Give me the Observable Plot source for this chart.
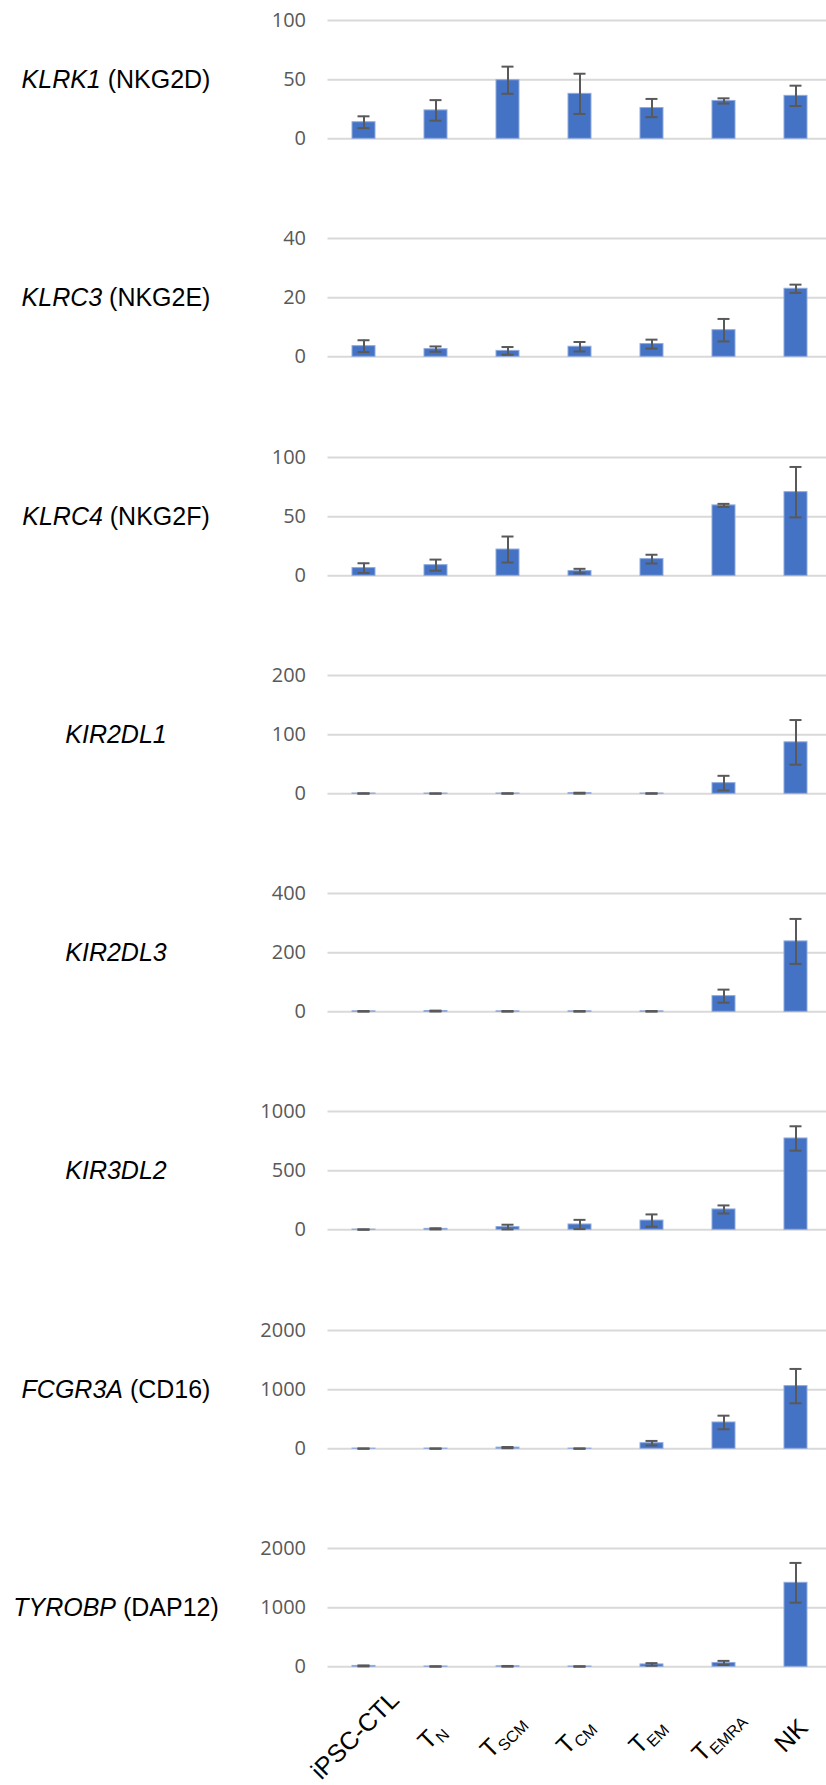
<!DOCTYPE html>
<html><head><meta charset="utf-8">
<script src="https://cdn.jsdelivr.net/npm/d3@7"></script>
<script src="https://cdn.jsdelivr.net/npm/@observablehq/plot@0.6"></script>
<style>
html,body{margin:0;padding:0;background:#fff;overflow:hidden;width:826px;height:1785px}
#chart svg{display:block;overflow:hidden}
</style></head><body><div id="chart"></div>
<script>
// ---- data ----
const cells = ["iPSC-CTL", "T_N", "T_SCM", "T_CM", "T_EM", "T_EMRA", "NK"];
const genes = ["KLRK1", "KLRC3", "KLRC4", "KIR2DL1", "KIR2DL3", "KIR3DL2", "FCGR3A", "TYROBP"];
const proteins = ["NKG2D", "NKG2E", "NKG2F", "", "", "", "CD16", "DAP12"];
const yMax = [100, 40, 100, 200, 400, 1000, 2000, 2000];

const KLRK1_mean = [14, 24, 49.5, 38, 26, 32, 36.3];
const KLRK1_err  = [5, 8.7, 11.5, 17, 7.7, 2.2, 8.6];
const KLRC3_mean = [3.6, 2.6, 2.0, 3.4, 4.3, 9.0, 23];
const KLRC3_err  = [2.0, 0.9, 1.3, 1.6, 1.5, 3.8, 1.4];
const KLRC4_mean = [6.5, 9, 22.2, 4, 14.1, 59.5, 70.7];
const KLRC4_err  = [4.1, 4.7, 11, 1.9, 3.7, 1.3, 21.3];
const KIR2DL1_mean = [0.5, 0.4, 0.5, 1.0, 0.5, 18, 87];
const KIR2DL1_err  = [0.4, 0.3, 0.4, 0.8, 0.4, 12.4, 37.7];
const KIR2DL3_mean = [1.5, 2.5, 1.5, 1.5, 1.5, 53, 238];
const KIR2DL3_err  = [1, 1.5, 1, 1, 1, 22, 76];
const KIR3DL2_mean = [2, 8, 23, 45, 78, 172, 772];
const KIR3DL2_err  = [2, 5, 20, 39, 52, 34, 103];
const FCGR3A_mean = [3, 3, 20, 3, 95, 445, 1060];
const FCGR3A_err  = [3, 3, 10, 3, 38, 115, 290];
const TYROBP_mean = [15, 5, 8, 5, 40, 65, 1420];
const TYROBP_err  = [8, 4, 6, 4, 22, 35, 336];

const means = [KLRK1_mean, KLRC3_mean, KLRC4_mean, KIR2DL1_mean, KIR2DL3_mean, KIR3DL2_mean, FCGR3A_mean, TYROBP_mean];
const errs  = [KLRK1_err, KLRC3_err, KLRC4_err, KIR2DL1_err, KIR2DL3_err, KIR3DL2_err, FCGR3A_err, TYROBP_err];

// ---- layout ----
const W = 826, PANEL = 218.3, MT = 20, PH = 118.3;
const ML = 327.5, MR = -6.5;
const TOTAL = 1785;
const container = document.getElementById("chart");

genes.forEach((gene, gi) => {
  const last = gi === genes.length - 1;
  const data = cells.map((c, i) => ({cell: c, v: means[gi][i], e: errs[gi][i]}));
  const mb = last ? (TOTAL - (genes.length - 1) * PANEL - MT - PH) : (PANEL - MT - PH);
  const label = proteins[gi] ? `${gene} (${proteins[gi]})` : gene;
  const ticks = [0, yMax[gi] / 2, yMax[gi]];

  const marks = [
    Plot.ruleY(ticks, {stroke: "#d9d9d9", strokeWidth: 2}),
    Plot.barY(data, {x: "cell", y: "v", fill: "#4472C4", stroke: "#8FAADC", strokeWidth: 1}),
    Plot.ruleX(data, {x: "cell", y1: d => Math.max(0, d.v - d.e), y2: d => d.v + d.e, stroke: "#595959", strokeWidth: 2}),
    Plot.tickY(data, {x: "cell", y: d => d.v + d.e, stroke: "#595959", strokeWidth: 2, insetLeft: 5.5, insetRight: 5.5}),
    Plot.tickY(data, {x: "cell", y: d => Math.max(0, d.v - d.e), stroke: "#595959", strokeWidth: 2, insetLeft: 5.5, insetRight: 5.5}),
    // y tick labels
    Plot.text(ticks, {y: d => d, frameAnchor: "left", dx: -22, textAnchor: "end", text: d => String(d),
      fontSize: 20, fill: "#595959", fontFamily: "Open Sans"}),
    // gene label
    Plot.text([label], {frameAnchor: "left", dx: -212, text: d => d, textAnchor: "middle", fontSize: 25, fontFamily: "Liberation Sans", fill: "black"})
  ];
  if (last) {
    marks.push(Plot.text(cells, {x: d => d, frameAnchor: "bottom", rotate: -45, textAnchor: "end", dx: 3, dy: 75,
      text: d => d.replace("_", ""), fontSize: 25, fontFamily: "Liberation Sans", fill: "black"}));
  }

  const svg = Plot.plot({
    width: W, height: MT + PH + mb,
    marginLeft: ML, marginRight: MR, marginTop: MT, marginBottom: mb,
    style: {fontFamily: "Open Sans", background: "white", overflow: "hidden"},
    x: {domain: cells, paddingInner: 0.68, paddingOuter: 0.34, axis: null},
    y: {domain: [0, yMax[gi]], axis: null},
    marks
  });

  // rich text: italic gene name, upright protein name
  d3.select(svg).selectAll("text").filter(function() { return this.textContent === label; }).each(function() {
    const t = d3.select(this);
    t.text(null);
    t.append("tspan").attr("font-style", "italic").text(gene);
    if (proteins[gi]) t.append("tspan").text(" (" + proteins[gi] + ")");
  });

  container.appendChild(svg);

  // subscripts in x tick labels, then slide each rotated label along its baseline by its length
  if (last) {
    const plain = cells.map(c => c.replace("_", ""));
    d3.select(svg).selectAll("text").each(function() {
      const idx = plain.indexOf(this.textContent);
      if (idx < 0) return;
      const c = cells[idx];
      const t = d3.select(this);
      if (c.includes("_")) {
        const [base, sub] = c.split("_");
        t.text(null);
        t.append("tspan").text(base);
        t.append("tspan").attr("font-size", 16).attr("dy", "0.3em").text(sub);
      }
      const L = this.getComputedTextLength();
      const tr = this.getAttribute("transform") || "";
      this.setAttribute("transform", `translate(${(0.30 * L).toFixed(1)},${(-0.36 * L).toFixed(1)}) ` + tr);
    });
  }
});
</script>
</body></html>
